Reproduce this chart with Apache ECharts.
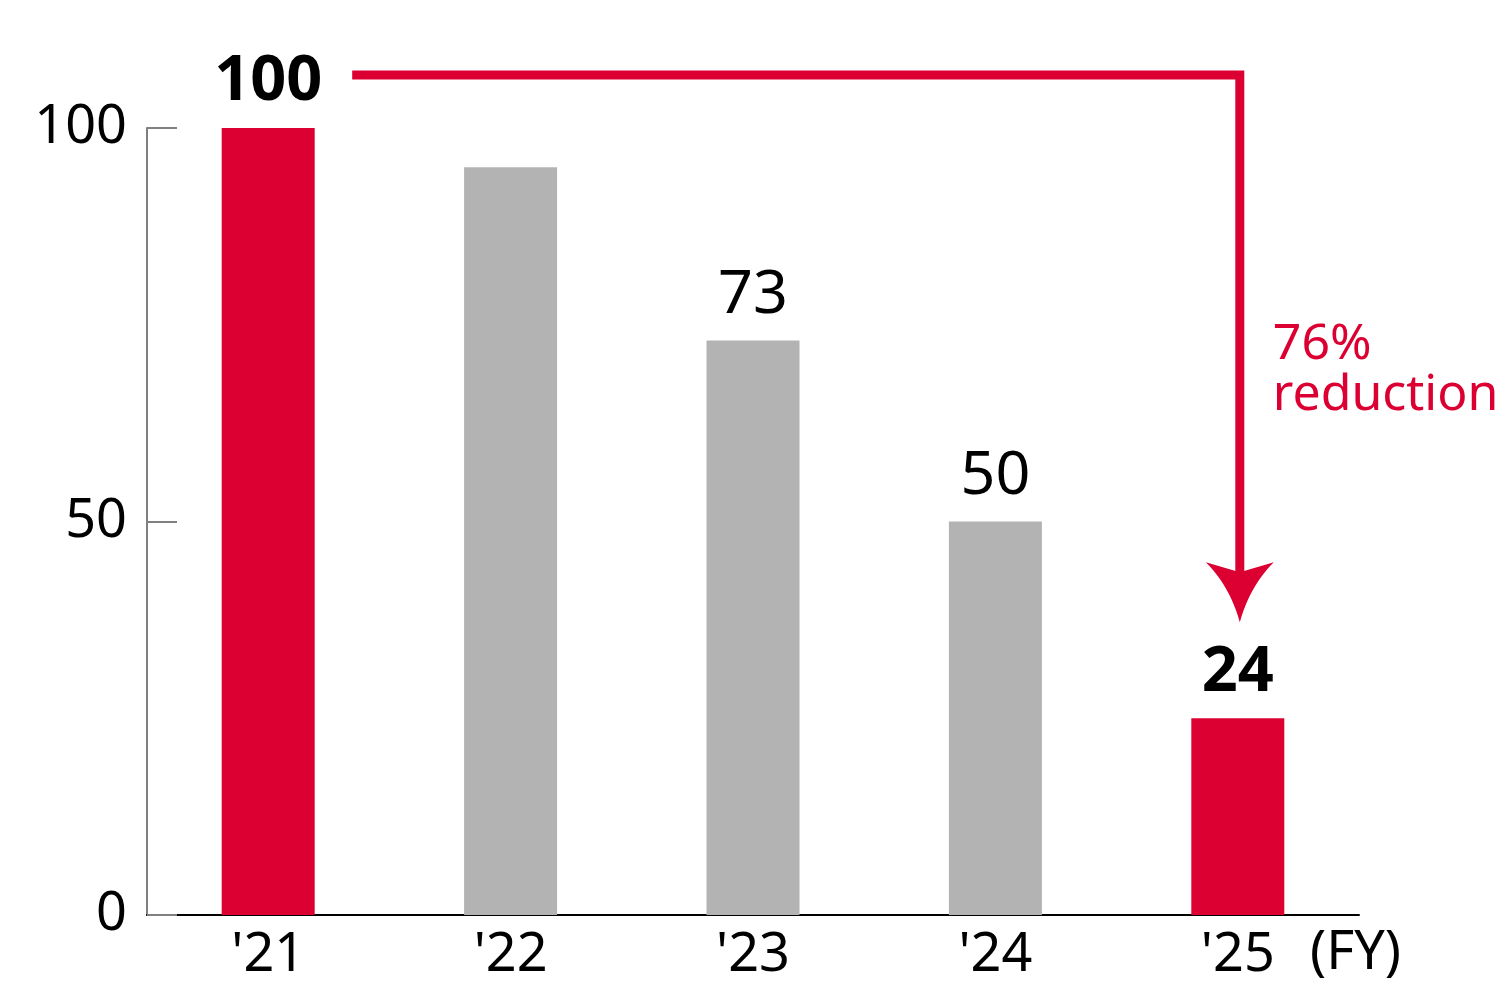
<!DOCTYPE html>
<html>
<head>
<meta charset="utf-8">
<script src="https://cdn.jsdelivr.net/npm/echarts@6/dist/echarts.min.js"></script>
<style>
    html, body { margin: 0; padding: 0; background: #fff; }
    #main { width: 1500px; height: 1000px; }
</style>
</head>
<body>
<div id="main"></div>
<script type="text/javascript">

    var categories = ["'21", "'22", "'23", "'24", "'25"];
    var values = [100, 95, 73, 50, 25];
    var valueLabels = ['100', '', '73', '50', '24'];
    var highlighted = [true, false, false, false, true];
    var yTicks = [0, 50, 100];
    var reductionText = '76%\nreduction';

    var RED = '#DC0032';
    var GRAY = '#B3B3B3';
    var FONT = '"Noto Sans", sans-serif';

    var myChart = echarts.init(document.getElementById('main'));

    var barData = values.map(function (v, i) {
        return {
            value: v,
            itemStyle: { color: highlighted[i] ? RED : GRAY },
            label: { fontWeight: highlighted[i] ? 'bold' : 'normal', fontSize: highlighted[i] ? 63 : 61 }
        };
    });

    var option = {
        animation: false,
        textStyle: { fontFamily: FONT },
        grid: { left: 147, right: 141, top: 128, bottom: 85, containLabel: false },
        xAxis: {
            type: 'category',
            data: categories,
            name: '(FY)',
            nameLocation: 'end',
            nameGap: -49,
            nameTextStyle: { fontSize: 54, color: '#000', fontFamily: FONT, verticalAlign: 'top', padding: [12, 0, 0, 0] },
            axisLine: { lineStyle: { color: '#000', width: 2 } },
            axisTick: { show: false },
            axisLabel: { fontSize: 54, color: '#000', margin: 14, fontFamily: FONT }
        },
        yAxis: {
            type: 'value',
            min: yTicks[0],
            max: yTicks[yTicks.length - 1],
            interval: yTicks[1] - yTicks[0],
            axisLine: { show: true, lineStyle: { color: '#808080', width: 2 } },
            axisTick: { show: true, inside: true, length: 30, lineStyle: { color: '#808080', width: 2 } },
            splitLine: { show: false },
            axisLabel: { fontSize: 54, color: '#000', margin: 20, fontFamily: FONT, padding: [12, 0, 0, 0] }
        },
        series: [{
            type: 'bar',
            barWidth: 93,
            data: barData,
            label: {
                show: true,
                position: 'top',
                distance: 14,
                color: '#000',
                fontFamily: FONT,
                formatter: function (p) { return valueLabels[p.dataIndex]; }
            }
        }]
    };

    myChart.setOption(option);

    // reduction arrow, anchored to the first and last bars
    var pFirst = myChart.convertToPixel({ seriesIndex: 0 }, [0, values[0]]);
    var pLast = myChart.convertToPixel({ seriesIndex: 0 }, [values.length - 1, values[values.length - 1]]);
    var lineY = pFirst[1] - 53;
    var startX = pFirst[0] + 84;
    var cornerX = pLast[0] + 2;
    var tipY = pLast[1] - 96;

    // arrow head outline: concave sides from tip to the wings, notch in the middle
    function quad(p0, c, p1, n) {
        var pts = [];
        for (var k = 0; k <= n; k++) {
            var t = k / n, u = 1 - t;
            pts.push([u * u * p0[0] + 2 * u * t * c[0] + t * t * p1[0],
                      u * u * p0[1] + 2 * u * t * c[1] + t * t * p1[1]]);
        }
        return pts;
    }
    var headPts = quad([0, 0], [-10, -36], [-34, -60], 12)
        .concat([[0, -50]])
        .concat(quad([34, -60], [10, -36], [0, 0], 12));

    myChart.setOption({
        graphic: [
            {
                type: 'polyline',
                shape: { points: [[startX, lineY], [cornerX, lineY], [cornerX, tipY - 45]] },
                style: { stroke: RED, lineWidth: 9, fill: null, lineJoin: 'miter', lineCap: 'butt' }
            },
            {
                type: 'polygon',
                x: cornerX,
                y: tipY,
                shape: { points: headPts },
                style: { fill: RED }
            },
            {
                type: 'text',
                x: cornerX + 33,
                y: lineY + 244,
                style: { text: reductionText, fill: RED, fontSize: 50, fontFamily: FONT, lineHeight: 51, verticalAlign: 'top' }
            }
        ]
    });

</script>
</body>
</html>
